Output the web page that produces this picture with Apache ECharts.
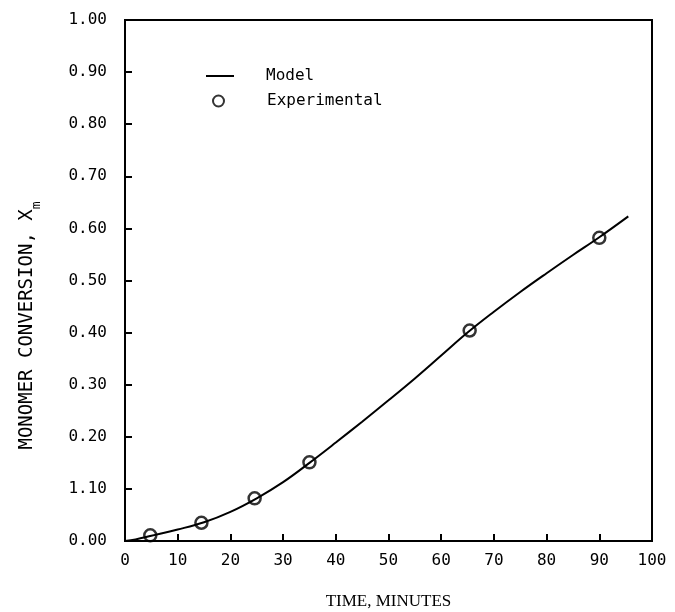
<!DOCTYPE html>
<html>
<head>
<meta charset="utf-8">
<script src="https://cdn.jsdelivr.net/npm/echarts@6/dist/echarts.min.js"></script>
<style>
  html, body { margin: 0; padding: 0; background: #fff; }
  #chart { width: 675px; height: 612px; }
</style>
</head>
<body>
<div id="chart"></div>
<script>
// model curve (time in minutes, conversion)
const modelTime = [0, 2, 5, 10, 15, 20, 25, 30, 35, 40, 45, 50, 55, 60, 65, 70, 75, 80, 85, 90, 95.5]
const modelConv = [0, 0.003, 0.010, 0.022, 0.036, 0.056, 0.082, 0.113, 0.150, 0.189, 0.229, 0.270, 0.312, 0.356, 0.400, 0.440, 0.478, 0.514, 0.549, 0.583, 0.623]

// experimental points
const expTime = [4.8, 14.5, 24.6, 35, 65.4, 90]
const expConv = [0.011, 0.035, 0.082, 0.151, 0.404, 0.582]

// y tick labels as printed (0.10 is printed as 1.10 in the original)
const yTickLabels = ['0.00', '1.10', '0.20', '0.30', '0.40', '0.50', '0.60', '0.70', '0.80', '0.90', '1.00']

const mono = 'DejaVu Sans Mono'

const chart = echarts.init(document.getElementById('chart'))

chart.setOption({
    backgroundColor: '#fff',
    animation: false,
    grid: {
        left: 125,
        right: 23,
        top: 20,
        bottom: 71,
        outerBoundsMode: 'none',
        show: true,
        borderColor: '#000',
        borderWidth: 2,
    },
    legend: [
        {
            data: [{name: 'Model', icon: 'rect'}],
            left: 201,
            top: 63,
            itemWidth: 28,
            itemHeight: 2,
            textStyle: {fontFamily: mono, fontSize: 16, color: '#000', padding: [0, 0, 0, 27]},
        },
        {
            data: ['Experimental'],
            left: 207,
            top: 88,
            itemWidth: 11,
            itemHeight: 11,
            textStyle: {fontFamily: mono, fontSize: 16, color: '#000', padding: [0, 0, 0, 38]},
        },
    ],
    xAxis: {
        type: 'value',
        min: 0,
        max: 100,
        interval: 10,
        name: 'TIME, MINUTES',
        nameLocation: 'middle',
        nameGap: 52,
        nameTextStyle: {fontFamily: 'Liberation Serif', fontSize: 17, color: '#000'},
        axisLine: {lineStyle: {color: '#000', width: 2}},
        axisTick: {inside: true, length: 7, lineStyle: {color: '#000', width: 2}},
        axisLabel: {fontFamily: mono, fontSize: 16, color: '#000', margin: 12},
        splitLine: {show: false},
    },
    yAxis: {
        type: 'value',
        min: 0,
        max: 1,
        interval: 0.1,
        name: 'MONOMER CONVERSION, X{sub|m}',
        nameLocation: 'middle',
        nameGap: 88,
        nameRotate: 90,
        nameTextStyle: {
            fontFamily: mono,
            fontSize: 19,
            color: '#000',
            padding: [0, 90, 0, 0],
            rich: {
                sub: {fontFamily: mono, fontSize: 13, color: '#000', verticalAlign: 'bottom', padding: [0, 0, -6, 0]},
            },
        },
        axisLine: {lineStyle: {color: '#000', width: 2}},
        axisTick: {inside: true, length: 7, lineStyle: {color: '#000', width: 2}},
        axisLabel: {
            fontFamily: mono,
            fontSize: 16,
            color: '#000',
            margin: 18,
            formatter: (val) => yTickLabels[Math.round(val * 10)],
        },
        splitLine: {show: false},
    },
    series: [
        {
            name: 'Model',
            type: 'line',
            smooth: 0.4,
            symbol: 'none',
            lineStyle: {color: '#000', width: 2},
            itemStyle: {color: '#000'},
            data: modelTime.map((t, i) => [t, modelConv[i]]),
            z: 2,
        },
        {
            name: 'Experimental',
            type: 'scatter',
            symbol: 'circle',
            symbolSize: 12,
            itemStyle: {color: 'rgba(255,255,255,0)', borderColor: '#000', borderWidth: 2.5},
            data: expTime.map((t, i) => [t, expConv[i]]),
            z: 3,
        },
    ],
})
</script>
</body>
</html>
